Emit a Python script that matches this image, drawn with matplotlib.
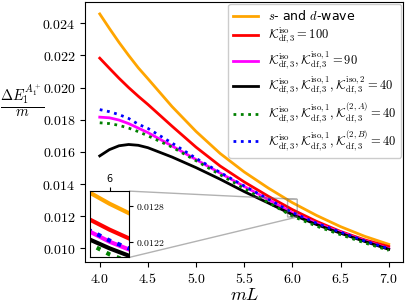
import numpy as np
import matplotlib
matplotlib.use("Agg")
import matplotlib.pyplot as plt

plt.rcParams['mathtext.fontset'] = 'cm'
plt.rcParams['axes.formatter.use_mathtext'] = True

# mL grid and curves
mL = [4.0, 4.1, 4.2, 4.3, 4.4, 4.5, 4.75, 5.0, 5.25, 5.5, 5.75, 6.0, 6.25, 6.5, 6.75, 7.0]

sd_wave = [0.02458, 0.02368, 0.02281, 0.02200, 0.02123, 0.02055, 0.01882, 0.01727,
           0.01590, 0.01475, 0.01375, 0.01284, 0.01205, 0.01135, 0.01075, 0.01025]
k_iso = [0.02183, 0.02120, 0.02058, 0.02000, 0.01946, 0.01895, 0.01760, 0.01629,
         0.01512, 0.01413, 0.01324, 0.01241, 0.01168, 0.01105, 0.01053, 0.01011]
k_iso1 = [0.01816, 0.01812, 0.01798, 0.01776, 0.01748, 0.01720, 0.01637, 0.01552,
          0.01468, 0.01385, 0.01304, 0.01221, 0.01156, 0.01100, 0.01047, 0.00998]
k_iso2 = [0.01575, 0.01614, 0.01638, 0.01646, 0.01641, 0.01626, 0.01568, 0.01502,
          0.01430, 0.01353, 0.01282, 0.01210, 0.01148, 0.01094, 0.01043, 0.00994]
k_2A = [0.01781, 0.01776, 0.01765, 0.01748, 0.01726, 0.01700, 0.01630, 0.01545,
        0.01458, 0.01373, 0.01285, 0.01200, 0.01138, 0.01085, 0.01034, 0.00988]
k_2B = [0.01863, 0.01850, 0.01832, 0.01808, 0.01772, 0.01746, 0.01655, 0.01560,
        0.01472, 0.01388, 0.01306, 0.01223, 0.01157, 0.01101, 0.01047, 0.00998]

series = [
    (sd_wave, 'orange', '-', r'$s$- and $d$-wave'),
    (k_iso, 'red', '-', r'$\mathcal{K}_{\rm df,3}^{\rm iso}=100$'),
    (k_iso1, 'magenta', '-', r'$\mathcal{K}_{\rm df,3}^{\rm iso},\mathcal{K}_{\rm df,3}^{\rm iso,1}=90$'),
    (k_iso2, 'black', '-', r'$\mathcal{K}_{\rm df,3}^{\rm iso},\mathcal{K}_{\rm df,3}^{\rm iso,1},\mathcal{K}_{\rm df,3}^{\rm iso,2}=40$'),
    (k_2A, 'green', ':', r'$\mathcal{K}_{\rm df,3}^{\rm iso},\mathcal{K}_{\rm df,3}^{\rm iso,1},\mathcal{K}_{\rm df,3}^{(2,A)}=40$'),
    (k_2B, 'blue', ':', r'$\mathcal{K}_{\rm df,3}^{\rm iso},\mathcal{K}_{\rm df,3}^{\rm iso,1},\mathcal{K}_{\rm df,3}^{(2,B)}=40$'),
]

fig = plt.figure(figsize=(4.07, 3.03), dpi=100)
ax = fig.add_axes([0.2096, 0.135, 0.781, 0.858])

for y, c, ls, lab in series:
    ax.plot(mL, y, color=c, ls=ls, lw=2, label=lab)

ax.set_yticks([0.010, 0.012, 0.014, 0.016, 0.018, 0.020, 0.022, 0.024])
ax.yaxis.set_major_formatter(matplotlib.ticker.FormatStrFormatter('$%.3f$'))
ax.set_xticks([4.0, 4.5, 5.0, 5.5, 6.0, 6.5, 7.0])
ax.xaxis.set_major_formatter(matplotlib.ticker.FormatStrFormatter('$%.1f$'))
ax.tick_params(labelsize=10)
ax.set_xlabel(r'$mL$', fontsize=13)
ax.xaxis.set_label_coords(0.5, -0.092, transform=ax.transAxes)
ax.set_ylabel(r'$\frac{\Delta E_1^{A_1^+}}{m}$', fontsize=15, rotation=0)
ax.yaxis.set_label_coords(-0.198, 0.55)

ax.legend(loc='upper right', fontsize=9, borderaxespad=0.15, labelspacing=0.25,
          framealpha=1)

# inset zoom
axins = ax.inset_axes([0.015, 0.018, 0.123, 0.255])
for y, c, ls, lab in series:
    axins.plot(mL, y, color=c, ls=ls, lw=3)
axins.set_xlim(5.95, 6.05)
axins.set_ylim(0.01195, 0.01305)
axins.set_xticks([6])
axins.xaxis.set_major_formatter(matplotlib.ticker.FormatStrFormatter('%d'))
axins.set_yticks([0.0122, 0.0128])
axins.yaxis.set_major_formatter(matplotlib.ticker.FormatStrFormatter('$%.4f$'))
axins.xaxis.tick_top()
axins.yaxis.tick_right()
axins.tick_params(labelsize=7, length=3, pad=2)
ax.indicate_inset_zoom(axins, edgecolor='0.4')

fig.savefig('out.png', dpi=100)
